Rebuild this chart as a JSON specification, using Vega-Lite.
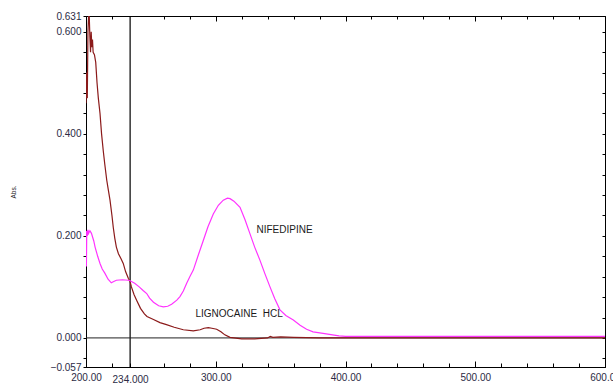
{
  "$schema": "https://vega.github.io/schema/vega-lite/v6.json",
  "width": 519,
  "height": 351,
  "autosize": "none",
  "padding": {"left": 86, "top": 16, "right": 8, "bottom": 16},
  "background": "white",
  "config": {
    "font": "Liberation Sans",
    "view": {"stroke": "black", "strokeWidth": 1},
    "axis": {"domainColor": "black", "tickColor": "black", "labelColor": "#2b2b45", "labelFont": "Liberation Sans", "labelFontSize": 10, "grid": false, "labelOverlap": false, "labelFlush": false}
  },
  "datasets": {
    "spectra": [
      {"series": "Lignocaine HCl", "nm": 200.0, "abs": 0.46},
      {"series": "Lignocaine HCl", "nm": 200.5, "abs": 0.52},
      {"series": "Lignocaine HCl", "nm": 201.0, "abs": 0.47},
      {"series": "Lignocaine HCl", "nm": 201.5, "abs": 0.60},
      {"series": "Lignocaine HCl", "nm": 202.0, "abs": 0.631},
      {"series": "Lignocaine HCl", "nm": 202.5, "abs": 0.631},
      {"series": "Lignocaine HCl", "nm": 203.0, "abs": 0.59},
      {"series": "Lignocaine HCl", "nm": 203.5, "abs": 0.56},
      {"series": "Lignocaine HCl", "nm": 204.0, "abs": 0.60},
      {"series": "Lignocaine HCl", "nm": 204.5, "abs": 0.57},
      {"series": "Lignocaine HCl", "nm": 205.0, "abs": 0.585},
      {"series": "Lignocaine HCl", "nm": 205.5, "abs": 0.56},
      {"series": "Lignocaine HCl", "nm": 206.5, "abs": 0.555},
      {"series": "Lignocaine HCl", "nm": 207.5, "abs": 0.54},
      {"series": "Lignocaine HCl", "nm": 208.5, "abs": 0.50},
      {"series": "Lignocaine HCl", "nm": 209.5, "abs": 0.47},
      {"series": "Lignocaine HCl", "nm": 210.8, "abs": 0.44},
      {"series": "Lignocaine HCl", "nm": 212.0, "abs": 0.40},
      {"series": "Lignocaine HCl", "nm": 213.3, "abs": 0.367},
      {"series": "Lignocaine HCl", "nm": 214.5, "abs": 0.34},
      {"series": "Lignocaine HCl", "nm": 216.0, "abs": 0.309},
      {"series": "Lignocaine HCl", "nm": 217.2, "abs": 0.29},
      {"series": "Lignocaine HCl", "nm": 218.5, "abs": 0.27},
      {"series": "Lignocaine HCl", "nm": 220.0, "abs": 0.24},
      {"series": "Lignocaine HCl", "nm": 221.0, "abs": 0.217},
      {"series": "Lignocaine HCl", "nm": 222.2, "abs": 0.195},
      {"series": "Lignocaine HCl", "nm": 223.4, "abs": 0.178},
      {"series": "Lignocaine HCl", "nm": 225.0, "abs": 0.165},
      {"series": "Lignocaine HCl", "nm": 227.0, "abs": 0.155},
      {"series": "Lignocaine HCl", "nm": 228.7, "abs": 0.146},
      {"series": "Lignocaine HCl", "nm": 230.5, "abs": 0.13},
      {"series": "Lignocaine HCl", "nm": 232.6, "abs": 0.117},
      {"series": "Lignocaine HCl", "nm": 234.0, "abs": 0.11},
      {"series": "Lignocaine HCl", "nm": 235.0, "abs": 0.10},
      {"series": "Lignocaine HCl", "nm": 237.0, "abs": 0.085},
      {"series": "Lignocaine HCl", "nm": 239.0, "abs": 0.074},
      {"series": "Lignocaine HCl", "nm": 242.0, "abs": 0.058},
      {"series": "Lignocaine HCl", "nm": 245.0, "abs": 0.047},
      {"series": "Lignocaine HCl", "nm": 247.0, "abs": 0.042},
      {"series": "Lignocaine HCl", "nm": 252.0, "abs": 0.036},
      {"series": "Lignocaine HCl", "nm": 257.0, "abs": 0.030},
      {"series": "Lignocaine HCl", "nm": 262.0, "abs": 0.026},
      {"series": "Lignocaine HCl", "nm": 268.0, "abs": 0.021},
      {"series": "Lignocaine HCl", "nm": 275.0, "abs": 0.016},
      {"series": "Lignocaine HCl", "nm": 282.7, "abs": 0.014},
      {"series": "Lignocaine HCl", "nm": 288.0, "abs": 0.016},
      {"series": "Lignocaine HCl", "nm": 291.0, "abs": 0.019},
      {"series": "Lignocaine HCl", "nm": 294.3, "abs": 0.020},
      {"series": "Lignocaine HCl", "nm": 297.0, "abs": 0.019},
      {"series": "Lignocaine HCl", "nm": 300.7, "abs": 0.017},
      {"series": "Lignocaine HCl", "nm": 304.0, "abs": 0.012},
      {"series": "Lignocaine HCl", "nm": 307.0, "abs": 0.006},
      {"series": "Lignocaine HCl", "nm": 311.0, "abs": 0.001},
      {"series": "Lignocaine HCl", "nm": 320.0, "abs": -0.002},
      {"series": "Lignocaine HCl", "nm": 330.0, "abs": -0.002},
      {"series": "Lignocaine HCl", "nm": 340.0, "abs": 0.0},
      {"series": "Lignocaine HCl", "nm": 342.0, "abs": 0.003},
      {"series": "Lignocaine HCl", "nm": 344.0, "abs": 0.001},
      {"series": "Lignocaine HCl", "nm": 350.0, "abs": 0.002},
      {"series": "Lignocaine HCl", "nm": 360.0, "abs": 0.001},
      {"series": "Lignocaine HCl", "nm": 380.0, "abs": 0.0},
      {"series": "Lignocaine HCl", "nm": 400.0, "abs": 0.0},
      {"series": "Lignocaine HCl", "nm": 500.0, "abs": 0.0},
      {"series": "Lignocaine HCl", "nm": 600.0, "abs": 0.0},
      {"series": "Nifedipine", "nm": 200.0, "abs": 0.21},
      {"series": "Nifedipine", "nm": 200.3, "abs": 0.14},
      {"series": "Nifedipine", "nm": 200.6, "abs": 0.21},
      {"series": "Nifedipine", "nm": 201.0, "abs": 0.20},
      {"series": "Nifedipine", "nm": 201.5, "abs": 0.212},
      {"series": "Nifedipine", "nm": 202.0, "abs": 0.205},
      {"series": "Nifedipine", "nm": 203.0, "abs": 0.21},
      {"series": "Nifedipine", "nm": 204.2, "abs": 0.205},
      {"series": "Nifedipine", "nm": 206.0, "abs": 0.19},
      {"series": "Nifedipine", "nm": 207.0, "abs": 0.178},
      {"series": "Nifedipine", "nm": 209.0, "abs": 0.16},
      {"series": "Nifedipine", "nm": 210.8, "abs": 0.146},
      {"series": "Nifedipine", "nm": 212.5, "abs": 0.135},
      {"series": "Nifedipine", "nm": 214.5, "abs": 0.127},
      {"series": "Nifedipine", "nm": 217.0, "abs": 0.115},
      {"series": "Nifedipine", "nm": 219.5, "abs": 0.108},
      {"series": "Nifedipine", "nm": 221.0, "abs": 0.11},
      {"series": "Nifedipine", "nm": 223.4, "abs": 0.113},
      {"series": "Nifedipine", "nm": 228.0, "abs": 0.114},
      {"series": "Nifedipine", "nm": 232.6, "abs": 0.113},
      {"series": "Nifedipine", "nm": 234.0, "abs": 0.112},
      {"series": "Nifedipine", "nm": 237.5, "abs": 0.107},
      {"series": "Nifedipine", "nm": 241.0, "abs": 0.100},
      {"series": "Nifedipine", "nm": 244.0, "abs": 0.093},
      {"series": "Nifedipine", "nm": 246.8, "abs": 0.087},
      {"series": "Nifedipine", "nm": 249.0, "abs": 0.078},
      {"series": "Nifedipine", "nm": 252.0, "abs": 0.070},
      {"series": "Nifedipine", "nm": 256.0, "abs": 0.063},
      {"series": "Nifedipine", "nm": 259.6, "abs": 0.061},
      {"series": "Nifedipine", "nm": 263.0, "abs": 0.062},
      {"series": "Nifedipine", "nm": 266.0, "abs": 0.066},
      {"series": "Nifedipine", "nm": 270.0, "abs": 0.074},
      {"series": "Nifedipine", "nm": 272.4, "abs": 0.081},
      {"series": "Nifedipine", "nm": 275.0, "abs": 0.092},
      {"series": "Nifedipine", "nm": 277.6, "abs": 0.107},
      {"series": "Nifedipine", "nm": 280.0, "abs": 0.12},
      {"series": "Nifedipine", "nm": 282.7, "abs": 0.133},
      {"series": "Nifedipine", "nm": 286.5, "abs": 0.162},
      {"series": "Nifedipine", "nm": 290.4, "abs": 0.191},
      {"series": "Nifedipine", "nm": 294.0, "abs": 0.218},
      {"series": "Nifedipine", "nm": 298.1, "abs": 0.243},
      {"series": "Nifedipine", "nm": 302.0, "abs": 0.260},
      {"series": "Nifedipine", "nm": 305.8, "abs": 0.270},
      {"series": "Nifedipine", "nm": 309.0, "abs": 0.274},
      {"series": "Nifedipine", "nm": 311.0, "abs": 0.273},
      {"series": "Nifedipine", "nm": 314.0, "abs": 0.268},
      {"series": "Nifedipine", "nm": 318.7, "abs": 0.256},
      {"series": "Nifedipine", "nm": 322.5, "abs": 0.232},
      {"series": "Nifedipine", "nm": 326.4, "abs": 0.204},
      {"series": "Nifedipine", "nm": 330.0, "abs": 0.178},
      {"series": "Nifedipine", "nm": 334.1, "abs": 0.152},
      {"series": "Nifedipine", "nm": 338.0, "abs": 0.125},
      {"series": "Nifedipine", "nm": 341.8, "abs": 0.100},
      {"series": "Nifedipine", "nm": 345.5, "abs": 0.077},
      {"series": "Nifedipine", "nm": 349.5, "abs": 0.055},
      {"series": "Nifedipine", "nm": 354.0, "abs": 0.044},
      {"series": "Nifedipine", "nm": 359.8, "abs": 0.035},
      {"series": "Nifedipine", "nm": 365.0, "abs": 0.025},
      {"series": "Nifedipine", "nm": 370.0, "abs": 0.017},
      {"series": "Nifedipine", "nm": 375.0, "abs": 0.012},
      {"series": "Nifedipine", "nm": 382.7, "abs": 0.009},
      {"series": "Nifedipine", "nm": 390.0, "abs": 0.006},
      {"series": "Nifedipine", "nm": 395.0, "abs": 0.004},
      {"series": "Nifedipine", "nm": 400.0, "abs": 0.003},
      {"series": "Nifedipine", "nm": 500.0, "abs": 0.003},
      {"series": "Nifedipine", "nm": 600.0, "abs": 0.003}
    ],
    "labels": [
      {"label": "NIFEDIPINE", "x": 353, "y": 0.212},
      {"label": "LIGNOCAINE\u00a0 HCL", "x": 318, "y": 0.046}
    ],
    "marker": [{"nm": 234}],
    "baseline": [{"abs": 0}]
  },
  "layer": [
    {
      "data": {"name": "marker"},
      "mark": {"type": "rule", "color": "black", "strokeWidth": 1.2},
      "encoding": {
        "x": {"field": "nm", "type": "quantitative",
          "scale": {"domain": [200, 600], "nice": false, "zero": false},
          "axis": {"orient": "top", "title": null, "labels": false,
            "values": [200,220,260,280,300,320,340,360,380,400,420,440,460,480,500,520,540,560,580,600],
            "tickSize": {"condition": {"test": "datum.value % 100 == 0", "value": -5}, "value": -3}}}
      }
    },
    {
      "data": {"name": "baseline"},
      "mark": {"type": "rule", "color": "#222222", "strokeWidth": 1},
      "encoding": {
        "y": {"field": "abs", "type": "quantitative",
          "scale": {"domain": [-0.057, 0.631], "nice": false, "zero": false},
          "axis": {"orient": "right", "title": null, "labels": false,
            "values": [-0.04,0,0.04,0.08,0.12,0.16,0.2,0.24,0.28,0.32,0.36,0.4,0.44,0.48,0.52,0.56,0.6],
            "tickSize": -3}}
      }
    },
    {
      "data": {"name": "spectra"},
      "mark": {"type": "line", "strokeWidth": 1.2, "clip": true},
      "encoding": {
        "x": {"field": "nm", "type": "quantitative",
          "scale": {"domain": [200, 600], "nice": false, "zero": false},
          "axis": {"orient": "bottom", "title": null,
            "values": [200,220,234,260,280,300,320,340,360,380,400,420,440,460,480,500,520,540,560,580,600],
            "labelExpr": "datum.value == 234 ? '234.000' : (datum.value % 100 == 0 ? format(datum.value, '.2f') : '')",
            "tickSize": {"condition": {"test": "datum.value % 100 == 0", "value": -6}, "value": -4},
            "labelPadding": 11}},
        "y": {"field": "abs", "type": "quantitative",
          "scale": {"domain": [-0.057, 0.631], "nice": false, "zero": false},
          "axis": {"orient": "left", "title": "Abs.", "titleFontSize": 6.5, "titleFontWeight": "normal", "titleColor": "#222222", "titlePadding": 34,
            "values": [-0.057,-0.04,0,0.04,0.08,0.12,0.16,0.2,0.24,0.28,0.32,0.36,0.4,0.44,0.48,0.52,0.56,0.6,0.631],
            "labelExpr": "indexof([-0.057,0,0.2,0.4,0.6,0.631], datum.value) >= 0 ? format(datum.value, '.3f') : ''",
            "tickSize": 3, "labelPadding": 2}},
        "color": {"field": "series", "type": "nominal",
          "scale": {"domain": ["Lignocaine HCl", "Nifedipine"], "range": ["#8b1a1a", "#ff33ff"]},
          "legend": null}
      }
    },
    {
      "data": {"name": "labels"},
      "mark": {"type": "text", "fontSize": 10, "color": "#1a1a1a", "align": "center", "baseline": "middle"},
      "encoding": {
        "x": {"field": "x", "type": "quantitative", "scale": {"domain": [200, 600], "nice": false, "zero": false}, "axis": null},
        "y": {"field": "y", "type": "quantitative", "scale": {"domain": [-0.057, 0.631], "nice": false, "zero": false}, "axis": null},
        "text": {"field": "label"}
      }
    }
  ],
  "resolve": {"axis": {"x": "independent", "y": "independent"}}
}
